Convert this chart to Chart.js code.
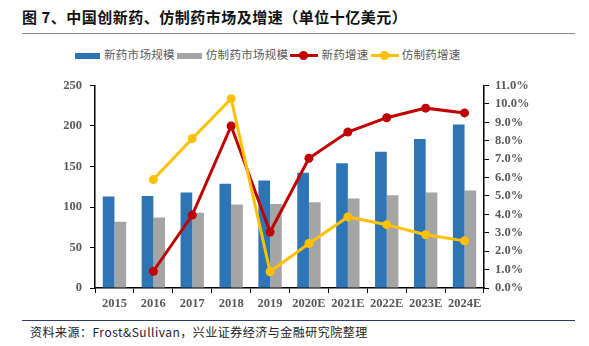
<!DOCTYPE html>
<html>
<head>
<meta charset="utf-8">
<script src="https://cdn.jsdelivr.net/npm/chart.js@4/dist/chart.umd.min.js"></script>
<style>
  body { margin: 0; width: 589px; height: 346px; background: #fff; position: relative; overflow: hidden; font-family: "Noto Sans CJK SC", sans-serif; }
  #title { position: absolute; left: 22px; top: 6px; font-size: 15px; font-weight: bold; color: #111; letter-spacing: 0.5px; }
  #titleLine { position: absolute; left: 22px; top: 33px; width: 553px; height: 0; border-top: 1.5px solid #8c8c8c; }
  #legend { position: absolute; left: 75px; top: 44px; font-size: 11.5px; color: #595959; white-space: nowrap; letter-spacing: 0.3px; }
  .item { display: inline-block; vertical-align: middle; margin-right: 2px; }
  .box { display: inline-block; width: 25px; height: 6px; vertical-align: middle; margin-right: 4px; }
  .ln { display: inline-block; position: relative; width: 28px; height: 10px; vertical-align: middle; margin-right: 3px; }
  .ln i { position: absolute; left: 0; top: 3.5px; width: 28px; height: 3px; }
  .ln b { position: absolute; left: 9px; top: 0.5px; width: 9px; height: 9px; border-radius: 50%; }
  #wrap { position: absolute; left: 0; top: 70px; width: 589px; height: 250px; }
  #footLine { position: absolute; left: 22px; top: 320px; width: 553px; height: 0; border-top: 1.5px solid #2e3b78; }
  #source { position: absolute; left: 30px; top: 323px; font-size: 12px; color: #222; letter-spacing: 0.5px; }
</style>
</head>
<body>
<div id="title">图 7、中国创新药、仿制药市场及增速（单位十亿美元）</div>
<div id="titleLine"></div>
<div id="legend"></div>
<div id="wrap"><canvas id="chart"></canvas></div>
<div id="footLine"></div>
<div id="source">资料来源：Frost&amp;Sullivan，兴业证券经济与金融研究院整理</div>
<script>
const years = ['2015', '2016', '2017', '2018', '2019', '2020E', '2021E', '2022E', '2023E', '2024E'];
const newDrugSize = [113, 113.6, 118, 128.8, 132.8, 142.3, 154, 168.3, 184, 201.8];
const genericSize = [81.7, 87, 93, 103, 103.7, 106, 110.4, 114.4, 118, 120.4];
const newDrugGrowth = [null, 0.91, 3.96, 8.8, 3.04, 7.05, 8.47, 9.25, 9.77, 9.51];
const genericGrowth = [null, 5.89, 8.12, 10.28, 0.88, 2.42, 3.86, 3.44, 2.89, 2.56];

const blue = '#2e75b6';
const gray = '#a5a5a5';
const red = '#c00000';
const yellow = '#ffc000';
const tickFont = { family: 'Liberation Serif', size: 12.5, weight: 'bold' };
const tickColor = '#595959';

const legendItems = [
  { label: '新药市场规模', color: blue, type: 'bar' },
  { label: '仿制药市场规模', color: gray, type: 'bar' },
  { label: '新药增速', color: red, type: 'line' },
  { label: '仿制药增速', color: yellow, type: 'line' },
];
document.getElementById('legend').innerHTML = legendItems.map(it =>
  it.type === 'bar'
    ? `<span class="item"><span class="box" style="background:${it.color}"></span>${it.label}</span>`
    : `<span class="item"><span class="ln"><i style="background:${it.color}"></i><b style="background:${it.color}"></b></span>${it.label}</span>`
).join('');

new Chart(document.getElementById('chart'), {
  data: {
    labels: years,
    datasets: [
      { type: 'line', label: '新药增速', data: newDrugGrowth, yAxisID: 'y1', borderColor: red, backgroundColor: red, borderWidth: 3, pointRadius: 4.5, pointBackgroundColor: red, pointBorderWidth: 0, tension: 0, order: 1 },
      { type: 'line', label: '仿制药增速', data: genericGrowth, yAxisID: 'y1', borderColor: yellow, backgroundColor: yellow, borderWidth: 3, pointRadius: 4.5, pointBackgroundColor: yellow, pointBorderWidth: 0, tension: 0, order: 0 },
      { type: 'bar', label: '新药市场规模', data: newDrugSize, yAxisID: 'y', backgroundColor: blue, categoryPercentage: 0.6, barPercentage: 1.0, order: 2 },
      { type: 'bar', label: '仿制药市场规模', data: genericSize, yAxisID: 'y', backgroundColor: gray, categoryPercentage: 0.6, barPercentage: 1.0, order: 2 },
    ],
  },
  options: {
    responsive: true,
    maintainAspectRatio: false,
    animation: false,
    layout: { padding: { top: 9, left: 0, right: 0, bottom: 0 } },
    plugins: { legend: { display: false }, tooltip: { enabled: false } },
    scales: {
      x: {
        offset: true,
        grid: { drawOnChartArea: false, drawTicks: true, tickLength: 5, color: '#000', offset: true },
        border: { color: '#000', width: 1.5 },
        ticks: { font: tickFont, color: tickColor, padding: 3, maxRotation: 0, autoSkip: false },
        afterFit: s => { s.height = 32; },
      },
      y: {
        position: 'left',
        min: 0, max: 250,
        ticks: { stepSize: 50, font: tickFont, color: tickColor, padding: 8 },
        grid: { drawOnChartArea: false, drawTicks: true, tickLength: 5, color: '#000' },
        border: { color: '#000', width: 1.5 },
        afterFit: s => { s.width = 95; },
      },
      y1: {
        position: 'right',
        min: 0, max: 11,
        ticks: { stepSize: 1, font: tickFont, color: tickColor, padding: 6, callback: v => v.toFixed(1) + '%' },
        grid: { drawOnChartArea: false, drawTicks: true, tickLength: 5, color: '#000' },
        border: { color: '#000', width: 1.5 },
        afterFit: s => { s.width = 105; },
      },
    },
  },
});
</script>
</body>
</html>
